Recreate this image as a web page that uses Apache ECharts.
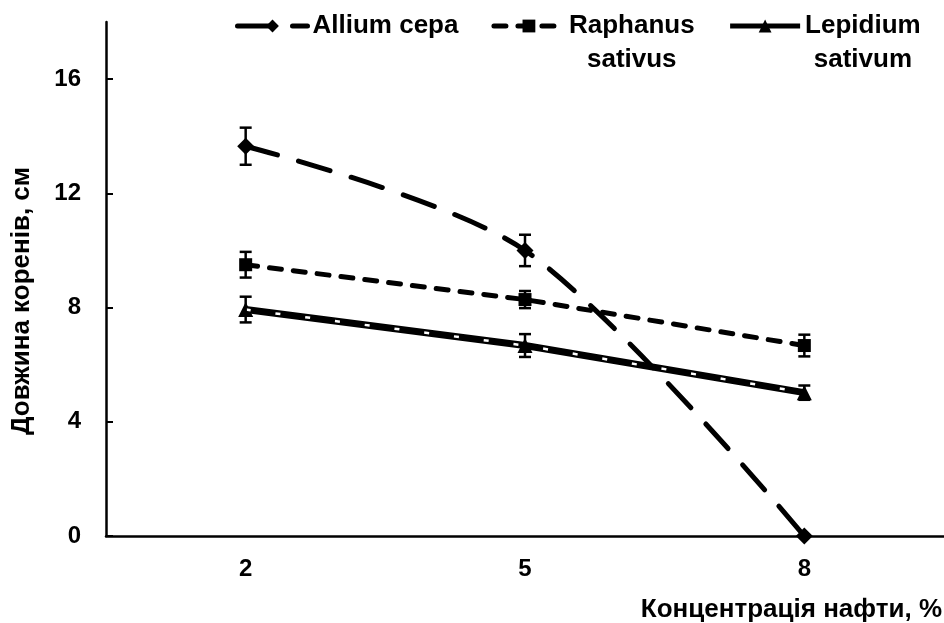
<!DOCTYPE html>
<html>
<head>
<meta charset="utf-8">
<script src="https://cdn.jsdelivr.net/npm/echarts@6/dist/echarts.min.js"></script>
<style>
html, body { margin: 0; padding: 0; background: #fff; }
#main { width: 944px; height: 623px; }
</style>
</head>
<body>
<div id="main"></div>
<script>
var concentrations = ['2', '5', '8'];
var seriesNames = ['Allium cepa', 'Raphanus sativus', 'Lepidium sativum'];
var alliumValues = [13.65, 10.0, 0];
var alliumErrors = [0.65, 0.55, 0];
var raphanusValues = [9.5, 8.28, 6.67];
var raphanusErrors = [0.45, 0.3, 0.38];
var lepidiumValues = [7.93, 6.67, 5.02];
var lepidiumErrors = [0.45, 0.4, 0.25];
var yTicks = [0, 4, 8, 12, 16];

var FONT = '"Liberation Sans", Arial, sans-serif';

// вертикальні лінії похибок
function errorSeries(values, errors) {
    var data = values.map(function(v, i) {
        return [i, v - errors[i], v + errors[i], errors[i]];
    });
    return {
        type: 'custom',
        silent: true,
        z: 5,
        encode: { x: 0, y: [1, 2] },
        data: data,
        renderItem: function(params, api) {
            if (!api.value(3)) return null;
            var lo = api.coord([api.value(0), api.value(1)]);
            var hi = api.coord([api.value(0), api.value(2)]);
            var w = 6;
            var st = { stroke: '#000', lineWidth: 2.5 };
            return {
                type: 'group',
                children: [
                    { type: 'line', shape: { x1: lo[0], y1: lo[1], x2: hi[0], y2: hi[1] }, style: st },
                    { type: 'line', shape: { x1: lo[0] - w, y1: lo[1], x2: lo[0] + w, y2: lo[1] }, style: st },
                    { type: 'line', shape: { x1: hi[0] - w, y1: hi[1], x2: hi[0] + w, y2: hi[1] }, style: st }
                ]
            };
        }
    };
}

var chart = echarts.init(document.getElementById('main'));
var option = {
    animation: false,
    backgroundColor: '#fff',
    textStyle: { fontFamily: FONT },
    title: {
        text: 'Концентрація нафти, %',
        right: 2,
        top: 597,
        padding: 0,
        textStyle: { fontFamily: FONT, fontSize: 26, fontWeight: 'bold', color: '#000' }
    },
    legend: {
        left: 235,
        top: 13,
        padding: 0,
        itemWidth: 70,
        itemHeight: 16,
        itemGap: 33,
        data: seriesNames,
        lineStyle: { width: 5 },
        formatter: function(name) {
            var parts = name.split(' ');
            if (name === 'Allium cepa') return '{c|' + name + '}\n{c| }';
            return '{c|' + parts[0] + '}\n{c|' + parts[1] + '}';
        },
        textStyle: {
            fontFamily: FONT, fontSize: 26, fontWeight: 'bold', color: '#000',
            padding: [0, 0, -34, 0],
            rich: {
                c: { fontFamily: FONT, fontSize: 26, fontWeight: 'bold', color: '#000', lineHeight: 34, align: 'center' }
            }
        }
    },
    grid: { left: 106, right: 0, top: 22, bottom: 87 },
    xAxis: {
        type: 'category',
        data: concentrations,
        boundaryGap: true,
        axisLine: { lineStyle: { color: '#000', width: 2.5 } },
        axisTick: { inside: true, length: 7, lineStyle: { color: '#000', width: 2 } },
        axisLabel: { margin: 21, color: '#000', fontFamily: FONT, fontSize: 24, fontWeight: 'bold' }
    },
    yAxis: {
        type: 'value',
        min: 0,
        max: 18,
        interval: 4,
        name: 'Довжина коренів, см',
        nameLocation: 'middle',
        nameGap: 71,
        nameTextStyle: { color: '#000', fontFamily: FONT, fontSize: 26, fontWeight: 'bold', padding: [0, 44, 0, 0] },
        splitLine: { show: false },
        axisLine: { show: true, lineStyle: { color: '#000', width: 2.5 } },
        axisTick: { show: true, inside: true, length: 7, customValues: yTicks, lineStyle: { color: '#000', width: 2 } },
        axisLabel: { margin: 25, color: '#000', fontFamily: FONT, fontSize: 24, fontWeight: 'bold', customValues: yTicks }
    },
    series: [
        errorSeries(alliumValues, alliumErrors),
        errorSeries(raphanusValues, raphanusErrors),
        errorSeries(lepidiumValues, lepidiumErrors),
        {
            name: 'Allium cepa',
            type: 'line',
            data: alliumValues,
            smooth: 0.3,
            symbol: 'diamond',
            symbolSize: 17,
            z: 3,
            itemStyle: { color: '#000' },
            lineStyle: { color: '#000', width: 5, type: [33, 22], cap: 'round' }
        },
        {
            name: 'Raphanus sativus',
            type: 'line',
            data: raphanusValues,
            symbol: 'rect',
            symbolSize: 13,
            z: 3,
            itemStyle: { color: '#000' },
            lineStyle: { color: '#000', width: 5, type: [12, 12], cap: 'round' }
        },
        {
            name: 'Lepidium sativum',
            type: 'line',
            data: lepidiumValues,
            symbol: 'triangle',
            symbolSize: 15,
            z: 3,
            itemStyle: { color: '#000' },
            lineStyle: { color: '#000', width: 7 }
        },
        {
            name: 'Lepidium overlay',
            type: 'line',
            data: lepidiumValues,
            symbol: 'none',
            silent: true,
            z: 4,
            lineStyle: { color: '#fff', width: 2.5, type: [5, 25] }
        }
    ]
};
chart.setOption(option);
</script>
</body>
</html>
